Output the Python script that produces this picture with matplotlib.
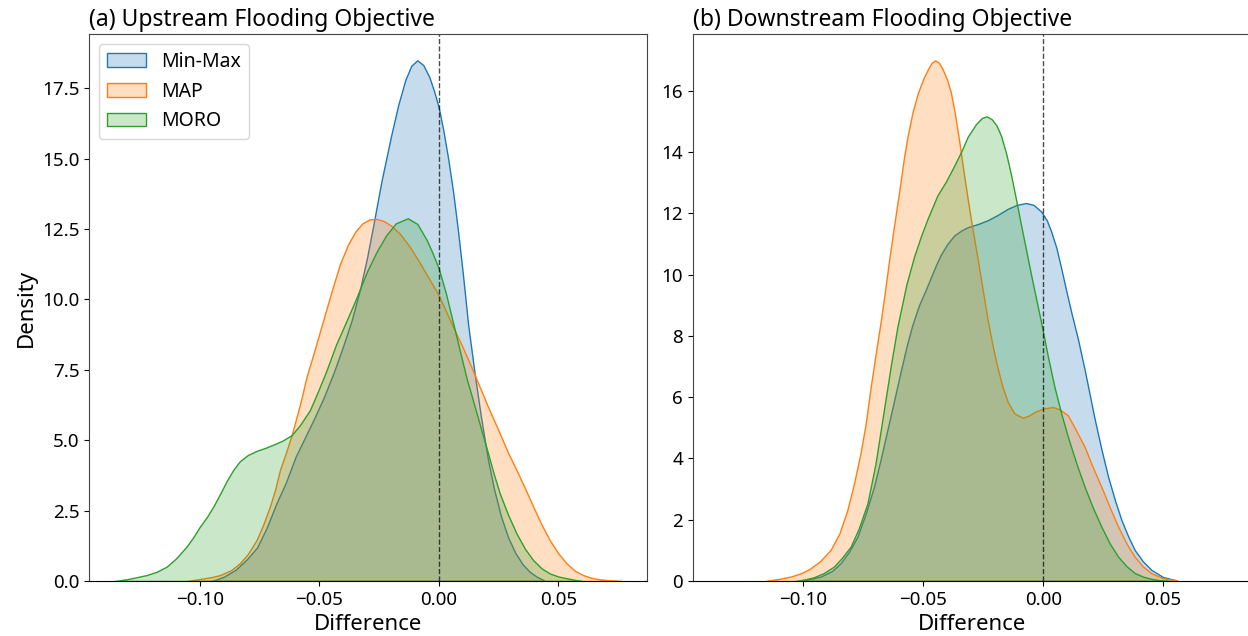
import matplotlib
matplotlib.use('Agg')
import matplotlib.pyplot as plt
from matplotlib.colors import to_rgba
from matplotlib.ticker import MultipleLocator

plt.rcParams['font.family'] = ['Noto Sans', 'DejaVu Sans']

# densities, per objective and method
labels = ['Min-Max', 'MAP', 'MORO']
colors = ['#1f77b4', '#ff7f0e', '#2ca02c']

# (a) upstream
up_minmax_x = [-0.0950, -0.0900, -0.0850, -0.0800, -0.0760, -0.0720, -0.0680, -0.0640, -0.0600,
               -0.0560, -0.0520, -0.0480, -0.0440, -0.0400, -0.0365, -0.0330, -0.0300, -0.0275,
               -0.0240, -0.0200, -0.0170, -0.0140, -0.0115, -0.0090, -0.0065, -0.0040, -0.0020,
               0.0000, 0.0020, 0.0040, 0.0060, 0.0080, 0.0100, 0.0123, 0.0151, 0.0175,
               0.0206, 0.0230, 0.0260, 0.0290, 0.0320, 0.0350, 0.0380, 0.0410, 0.0439]
up_minmax_y = [0.00, 0.15, 0.40, 0.80, 1.20, 1.90, 2.75, 3.50, 4.40,
               5.10, 5.80, 6.55, 7.40, 8.35, 9.25, 10.35, 11.50, 12.60,
               14.20, 15.80, 16.90, 17.80, 18.30, 18.49, 18.32, 17.90, 17.40,
               16.80, 15.95, 14.95, 13.80, 12.45, 10.95, 9.08, 7.30, 5.90,
               4.29, 3.30, 2.30, 1.55, 1.00, 0.60, 0.33, 0.15, 0.03]

up_map_x = [-0.1053, -0.1000, -0.0950, -0.0916, -0.0870, -0.0833, -0.0800, -0.0763, -0.0735,
            -0.0707, -0.0685, -0.0665, -0.0640, -0.0616, -0.0580, -0.0554, -0.0520, -0.0487,
            -0.0450, -0.0414, -0.0380, -0.0350, -0.0320, -0.0290, -0.0261, -0.0230, -0.0200,
            -0.0163, -0.0120, -0.0080, -0.0040, 0.0000, 0.0050, 0.0100, 0.0151, 0.0200,
            0.0255, 0.0290, 0.0325, 0.0360, 0.0395, 0.0430, 0.0464, 0.0500, 0.0534,
            0.0570, 0.0604, 0.0640, 0.0674, 0.0720, 0.0764]
up_map_y = [0.00, 0.07, 0.14, 0.21, 0.38, 0.63, 0.95, 1.45, 2.00,
            2.64, 3.25, 3.94, 4.55, 5.18, 6.30, 7.24, 8.20, 9.17,
            10.25, 11.25, 11.95, 12.40, 12.70, 12.84, 12.86, 12.78, 12.62,
            12.33, 11.85, 11.30, 10.72, 10.14, 9.20, 8.30, 7.30, 6.30,
            5.24, 4.55, 3.94, 3.30, 2.64, 2.00, 1.45, 0.98, 0.63,
            0.36, 0.21, 0.11, 0.06, 0.02, 0.00]

up_moro_x = [-0.1356, -0.1300, -0.1223, -0.1180, -0.1139, -0.1100, -0.1056, -0.1028, -0.1000,
             -0.0970, -0.0944, -0.0915, -0.0888, -0.0860, -0.0833, -0.0800, -0.0763, -0.0725,
             -0.0693, -0.0655, -0.0616, -0.0580, -0.0540, -0.0505, -0.0470, -0.0430, -0.0390,
             -0.0350, -0.0300, -0.0260, -0.0220, -0.0180, -0.0130, -0.0090, -0.0050, -0.0025,
             0.0000, 0.0030, 0.0060, 0.0090, 0.0116, 0.0150, 0.0180, 0.0206, 0.0230,
             0.0255, 0.0290, 0.0325, 0.0360, 0.0395, 0.0430, 0.0464, 0.0500, 0.0534,
             0.0570, 0.0597]
up_moro_y = [0.00, 0.07, 0.21, 0.33, 0.51, 0.80, 1.22, 1.55, 1.93,
             2.28, 2.64, 3.10, 3.55, 3.95, 4.25, 4.47, 4.62, 4.73,
             4.84, 4.98, 5.18, 5.55, 6.06, 6.75, 7.48, 8.40, 9.17,
             9.95, 11.00, 11.70, 12.28, 12.70, 12.88, 12.68, 12.10, 11.62,
             11.09, 10.20, 9.15, 8.10, 7.20, 6.20, 5.30, 4.53, 3.80,
             3.11, 2.35, 1.69, 1.15, 0.74, 0.45, 0.27, 0.16, 0.10,
             0.04, 0.00]

# (b) downstream
down_minmax_x = [-0.1030, -0.0980, -0.0929, -0.0880, -0.0845, -0.0810, -0.0775, -0.0740, -0.0706,
                 -0.0680, -0.0650, -0.0620, -0.0594, -0.0570, -0.0546, -0.0518, -0.0490, -0.0469,
                 -0.0445, -0.0427, -0.0400, -0.0371, -0.0340, -0.0315, -0.0270, -0.0231, -0.0190,
                 -0.0148, -0.0110, -0.0071, -0.0040, -0.0008, 0.0015, 0.0033, 0.0055, 0.0075,
                 0.0095, 0.0117, 0.0145, 0.0173, 0.0195, 0.0215, 0.0243, 0.0271, 0.0300,
                 0.0326, 0.0355, 0.0382, 0.0415, 0.0452, 0.0500, 0.0550, 0.0560]
down_minmax_y = [0.00, 0.05, 0.14, 0.33, 0.58, 0.95, 1.44, 2.20, 3.07,
                 3.90, 4.92, 5.95, 6.85, 7.65, 8.35, 9.00, 9.50, 9.90,
                 10.35, 10.65, 11.00, 11.28, 11.45, 11.55, 11.66, 11.78, 11.95,
                 12.15, 12.28, 12.34, 12.28, 12.06, 11.78, 11.42, 10.88, 10.22,
                 9.52, 8.78, 7.90, 6.90, 6.05, 5.28, 4.30, 3.40, 2.62,
                 2.00, 1.45, 1.01, 0.65, 0.36, 0.13, 0.03, 0.00]

down_map_x = [-0.1159, -0.1100, -0.1050, -0.1005, -0.0971, -0.0930, -0.0887, -0.0850, -0.0817,
              -0.0790, -0.0762, -0.0740, -0.0720, -0.0700, -0.0678, -0.0660, -0.0643, -0.0620,
              -0.0601, -0.0580, -0.0566, -0.0545, -0.0524, -0.0500, -0.0480, -0.0465, -0.0451,
              -0.0435, -0.0420, -0.0400, -0.0385, -0.0368, -0.0350, -0.0333, -0.0315, -0.0295,
              -0.0273, -0.0250, -0.0231, -0.0210, -0.0190, -0.0170, -0.0148, -0.0120, -0.0085,
              -0.0060, -0.0036, 0.0000, 0.0041, 0.0070, 0.0103, 0.0135, 0.0173, 0.0205,
              0.0243, 0.0278, 0.0313, 0.0348, 0.0382, 0.0415, 0.0452, 0.0500, 0.0550,
              0.0560]
down_map_y = [0.00, 0.07, 0.15, 0.27, 0.41, 0.65, 1.01, 1.55, 2.31,
              3.15, 4.16, 5.15, 6.30, 7.35, 8.45, 9.45, 10.45, 11.70,
              12.69, 13.85, 14.50, 15.30, 15.90, 16.40, 16.72, 16.92, 17.00,
              16.92, 16.72, 16.35, 15.95, 15.25, 14.35, 13.42, 12.48, 11.50,
              10.50, 9.40, 8.50, 7.65, 6.95, 6.35, 5.85, 5.47, 5.33,
              5.40, 5.52, 5.63, 5.68, 5.60, 5.41, 4.95, 4.38, 3.75,
              3.07, 2.40, 1.77, 1.22, 0.79, 0.48, 0.25, 0.09, 0.03,
              0.00]

down_moro_x = [-0.1030, -0.0995, -0.0957, -0.0915, -0.0873, -0.0840, -0.0803, -0.0770, -0.0733,
               -0.0700, -0.0664, -0.0635, -0.0608, -0.0570, -0.0538, -0.0510, -0.0482, -0.0441,
               -0.0405, -0.0371, -0.0340, -0.0315, -0.0280, -0.0255, -0.0236, -0.0215, -0.0195,
               -0.0176, -0.0155, -0.0134, -0.0113, -0.0092, -0.0071, -0.0050, -0.0029, -0.0008,
               0.0020, 0.0047, 0.0075, 0.0103, 0.0138, 0.0173, 0.0208, 0.0243, 0.0278,
               0.0313, 0.0348, 0.0382, 0.0417, 0.0452, 0.0490, 0.0520]
down_moro_y = [0.00, 0.05, 0.12, 0.26, 0.47, 0.75, 1.12, 1.70, 2.53,
               3.80, 5.60, 7.05, 8.30, 9.70, 10.60, 11.25, 11.83, 12.59,
               13.05, 13.56, 14.05, 14.50, 14.92, 15.12, 15.17, 15.08, 14.88,
               14.54, 13.98, 13.26, 12.45, 11.61, 10.80, 9.98, 9.20, 8.42,
               7.32, 6.34, 5.48, 4.71, 3.85, 3.07, 2.38, 1.77, 1.22,
               0.79, 0.48, 0.26, 0.14, 0.07, 0.02, 0.00]

panels = [
    ('(a) Upstream Flooding Objective', 2.5,
     [(up_minmax_x, up_minmax_y), (up_map_x, up_map_y), (up_moro_x, up_moro_y)]),
    ('(b) Downstream Flooding Objective', 2,
     [(down_minmax_x, down_minmax_y), (down_map_x, down_map_y), (down_moro_x, down_moro_y)]),
]

fig = plt.figure(figsize=(12.48, 6.36), dpi=100)
ax1 = fig.add_axes([0.0717, 0.0865, 0.4465, 0.8596])
ax2 = fig.add_axes([0.5550, 0.0865, 0.4480, 0.8596], sharex=ax1)

for ax, (title, step, series) in zip([ax1, ax2], panels):
    top = 0
    for (xs, ys), lab, c in zip(series, labels, colors):
        ax.fill_between(xs, 0, ys, facecolor=to_rgba(c, 0.25), edgecolor=to_rgba(c, 1.0),
                        linewidth=1.0, label=lab)
        top = max(top, max(ys))
    ax.axvline(0, color='k', linestyle='--', linewidth=1.0, alpha=0.7)
    ax.set_ylim(0, top * 1.05)
    ax.yaxis.set_major_locator(MultipleLocator(step))
    ax.set_title(title, loc='left', fontsize=16.5)
    ax.set_xlabel('Difference', fontsize=16)
    ax.tick_params(labelsize=13.5)
    for sp in ax.spines.values():
        sp.set_color('#444444')
    ax.spines['bottom'].set_color('k')

ax1.set_ylabel('Density', fontsize=16)
ax1.legend(loc='upper left', fontsize=14)

plt.savefig('out.png', dpi=100)
